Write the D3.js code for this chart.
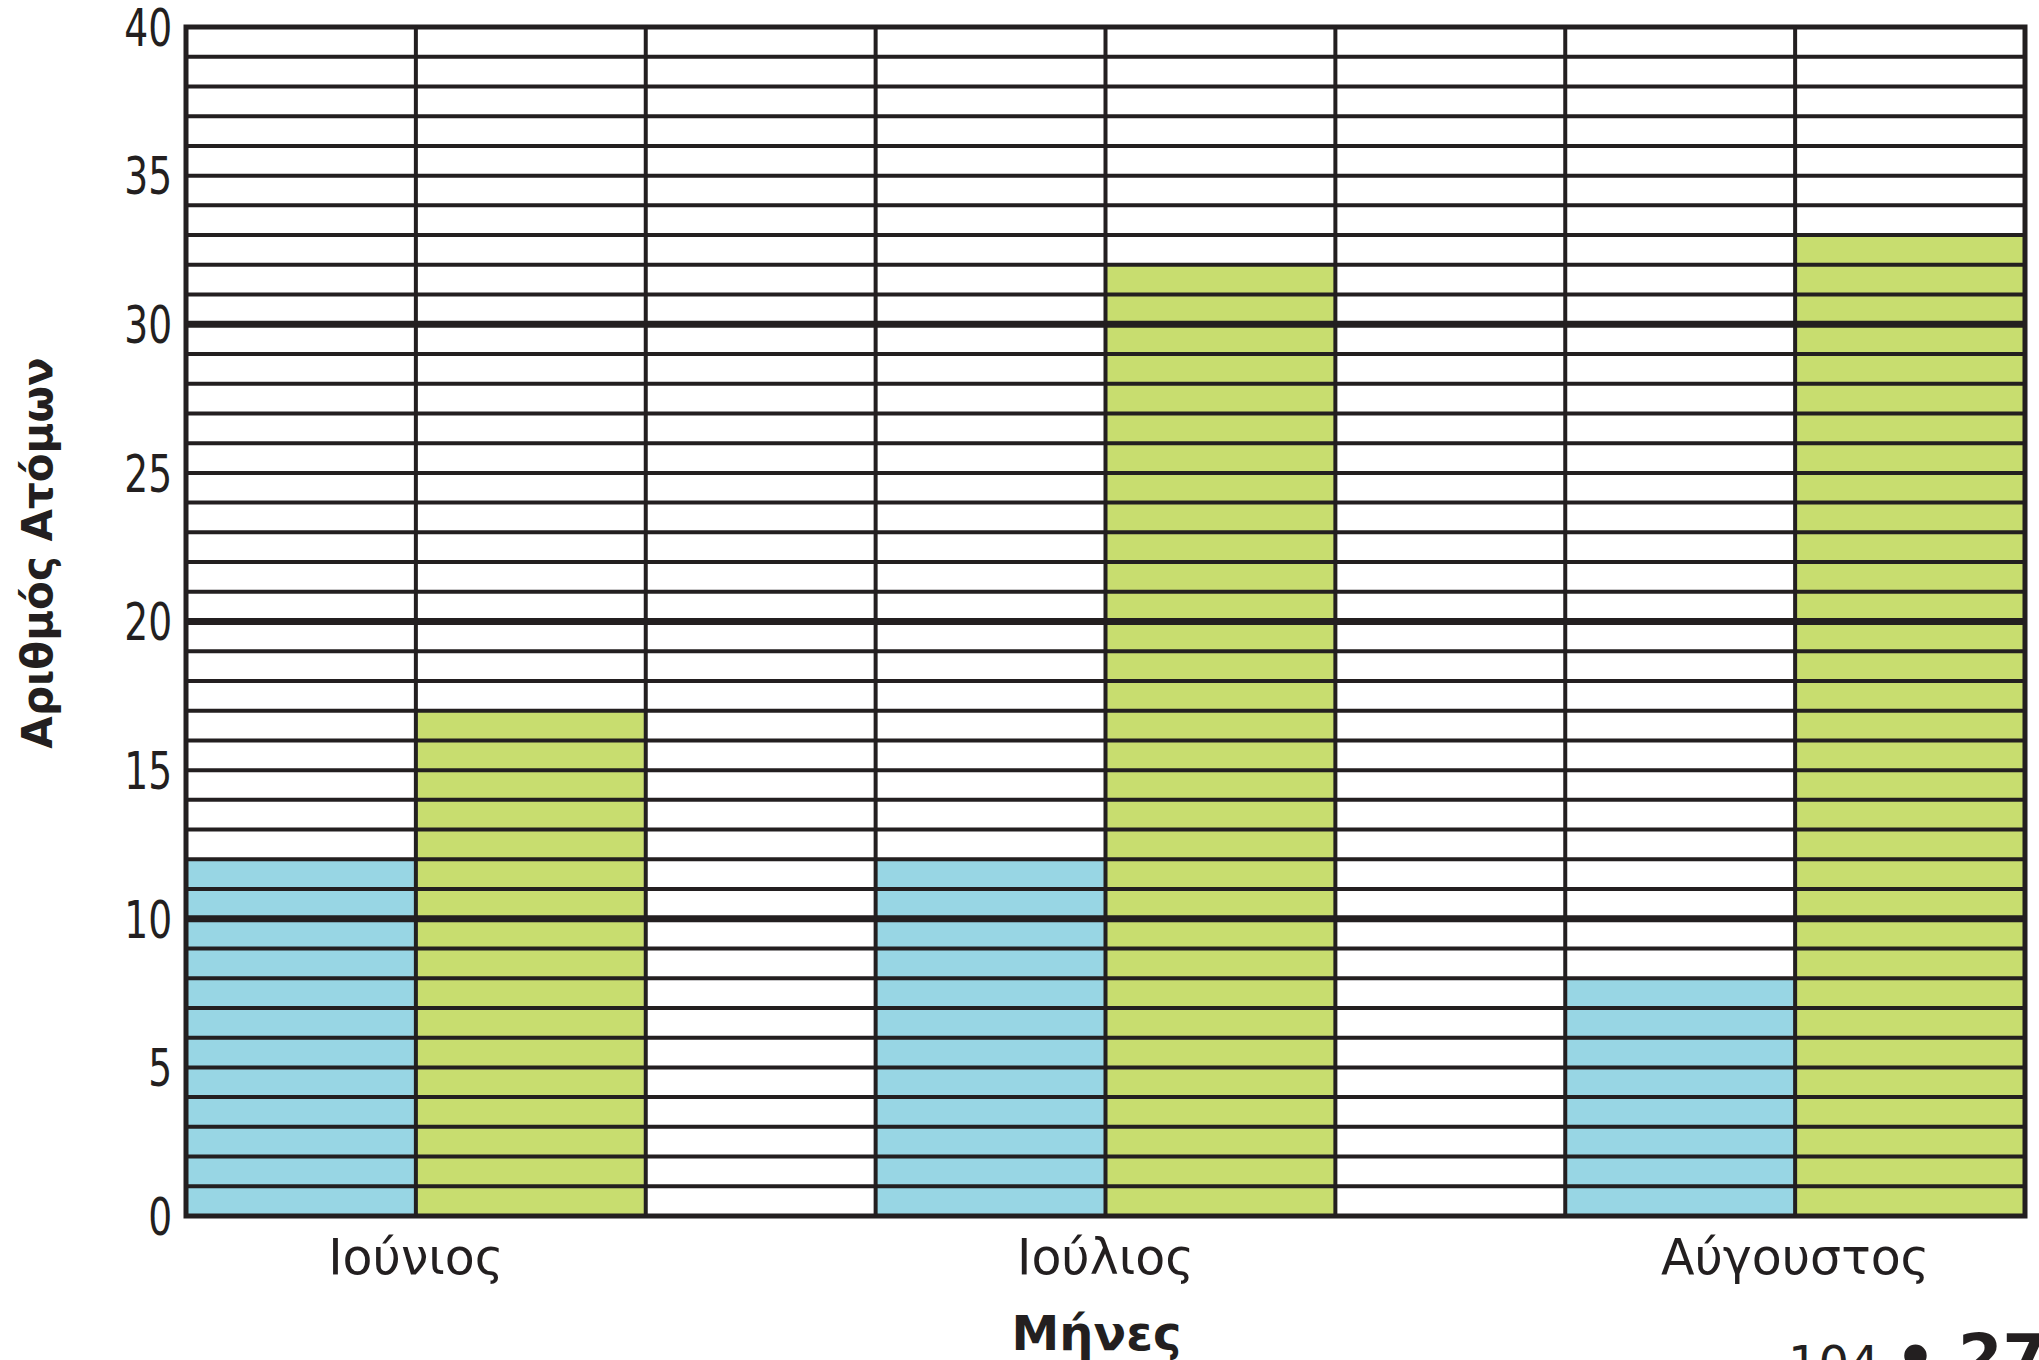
<!DOCTYPE html>
<html>
<head>
<meta charset="utf-8">
<script src="https://cdn.jsdelivr.net/npm/d3@7"></script>
<style>
  body { margin: 0; background: #fff; }
  svg { display: block; }
</style>
</head>
<body>
<div class="chart"></div>
<script>
// data
var months = ["Ιούνιος", "Ιούλιος", "Αύγουστος"];
var blueValues = [12, 12, 8];
var greenValues = [17, 32, 33];
var yTicks = [0, 5, 10, 15, 20, 25, 30, 35, 40];
var yGridValues = d3.range(0, 41);
var thickValues = [10, 20, 30];

var svgWidth = 2039;
var svgHeight = 1360;

var margin = { top: 27, right: 14, bottom: 144, left: 186 };
var width = svgWidth - margin.left - margin.right;
var height = svgHeight - margin.top - margin.bottom;

var ink = "#231f20";

var svg = d3.select(".chart")
    .append("svg")
    .attr("width", svgWidth).attr("height", svgHeight);

var chartGroup = svg.append("g")
    .attr("transform", `translate(${margin.left}, ${margin.top})`);

// 8 columns: blue, green, empty, blue, green, empty, blue, green
var nCols = months.length * 3 - 1;
var xScale = d3.scaleBand()
    .domain(d3.range(nCols))
    .range([0, width])
    .padding(0);

var yScale = d3.scaleLinear()
    .domain([0, 40]).range([height, 0]);

var bars = [];
months.forEach(function(m, i) {
    bars.push({ col: i * 3, value: blueValues[i], color: "#98d6e4" });
    bars.push({ col: i * 3 + 1, value: greenValues[i], color: "#c8dd6f" });
});

chartGroup.selectAll("rect.bar")
    .data(bars)
    .enter()
    .append("rect")
    .attr("class", "bar")
    .attr("x", d => xScale(d.col))
    .attr("width", xScale.bandwidth())
    .attr("y", d => yScale(d.value))
    .attr("height", d => height - yScale(d.value))
    .attr("fill", d => d.color);

// horizontal grid
chartGroup.selectAll("line.hgrid")
    .data(yGridValues)
    .enter()
    .append("line")
    .attr("class", "hgrid")
    .attr("x1", 0).attr("x2", width)
    .attr("y1", d => yScale(d)).attr("y2", d => yScale(d))
    .attr("stroke", ink)
    .attr("stroke-width", d => thickValues.indexOf(d) >= 0 ? 7 : 4);

// vertical grid
chartGroup.selectAll("line.vgrid")
    .data(d3.range(nCols + 1))
    .enter()
    .append("line")
    .attr("class", "vgrid")
    .attr("x1", d => d < nCols ? xScale(d) : width)
    .attr("x2", d => d < nCols ? xScale(d) : width)
    .attr("y1", 0).attr("y2", height)
    .attr("stroke", ink)
    .attr("stroke-width", 4);

chartGroup.append("rect")
    .attr("x", 0).attr("y", 0)
    .attr("width", width).attr("height", height)
    .attr("fill", "none")
    .attr("stroke", ink)
    .attr("stroke-width", 5);

// y axis labels (narrow digits)
var leftAxis = d3.axisLeft(yScale).tickValues(yTicks).tickSize(0).tickPadding(17);
var yAxisG = chartGroup.append("g").call(leftAxis);
yAxisG.select(".domain").remove();
yAxisG.selectAll("text")
    .attr("font-family", "'DejaVu Sans Condensed', 'DejaVu Sans'")
    .attr("font-size", 51)
    .attr("font-weight", 500)
    .attr("fill", ink)
    .attr("dy", "0.36em")
    .attr("transform", "scale(0.82,1)");

// month labels
chartGroup.selectAll("text.month")
    .data(months)
    .enter()
    .append("text")
    .attr("class", "month")
    .attr("x", (d, i) => xScale(i * 3 + 1))
    .attr("y", height + 58)
    .attr("text-anchor", "middle")
    .attr("font-family", "'DejaVu Sans'")
    .attr("font-size", 49)
    .attr("fill", ink)
    .text(d => d);

chartGroup.append("text")
    .attr("x", xScale(4) - 9)
    .attr("y", height + 134)
    .attr("text-anchor", "middle")
    .attr("font-family", "'DejaVu Sans'")
    .attr("font-weight", "bold")
    .attr("font-size", 48)
    .attr("fill", ink)
    .text("Μήνες");

chartGroup.append("text")
    .attr("transform", `translate(${52 - margin.left}, ${553 - margin.top}) rotate(-90)`)
    .attr("text-anchor", "middle")
    .attr("font-family", "'DejaVu Sans'")
    .attr("font-weight", "bold")
    .attr("font-size", 42)
    .attr("fill", ink)
    .text("Αριθμός Ατόμων");

// page number, cut off at the bottom edge as in the source page
var pageNo = svg.append("text")
    .attr("x", 1788)
    .attr("y", 1380)
    .attr("font-family", "'DejaVu Sans'")
    .attr("fill", ink);
pageNo.append("tspan").attr("font-size", 48).text("104 ");
pageNo.append("tspan").attr("font-size", 64).attr("font-weight", "bold").text("• 275");
</script>
</body>
</html>
